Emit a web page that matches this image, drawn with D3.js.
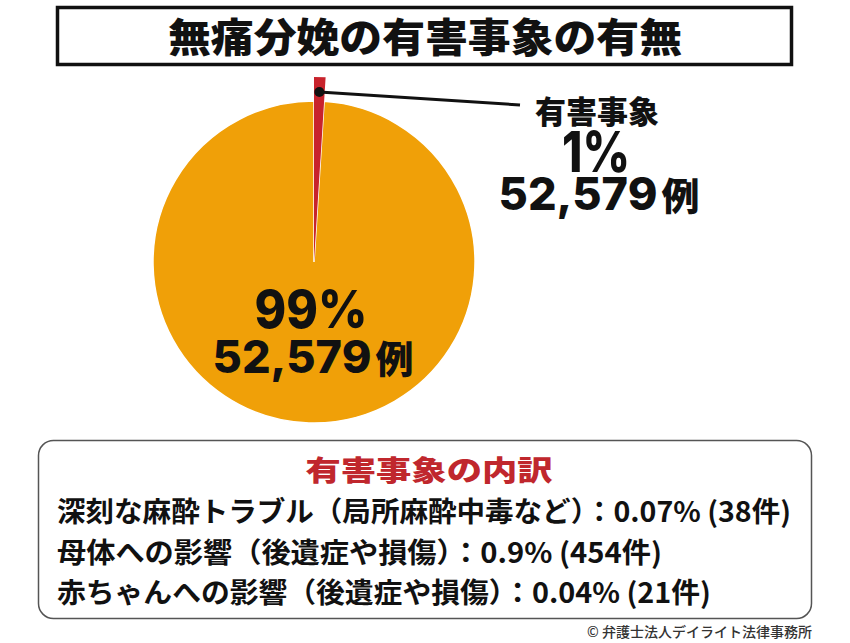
<!DOCTYPE html>
<html>
<head>
<meta charset="utf-8">
<script src="https://cdn.jsdelivr.net/npm/d3@7/dist/d3.min.js"></script>
<style>
  html, body { margin: 0; padding: 0; background: #fff; }
  svg { display: block; }
</style>
</head>
<body>
<svg id="chart" width="850" height="643"></svg>
<script>
// ---- data ----
const title = "無痛分娩の有害事象の有無";
const categories = ["有害事象", "有害事象なし"];
const percentValues = [1, 99];
const percentLabels = ["1%", "99%"];
const caseLabels = ["52,579", "52,579"];
const colors = ["#c8232c", "#f0a008"];
const breakdownTitle = "有害事象の内訳";
const breakdownLines = [
  "深刻な麻酔トラブル（局所麻酔中毒など）：0.07% (38件)",
  "母体への影響（後遺症や損傷）：0.9% (454件)",
  "赤ちゃんへの影響（後遺症や損傷）：0.04% (21件)"
];
const breakdownWidths = [734, 605, 654];
const credit = "© 弁護士法人デイライト法律事務所";

const JP = "'Noto Sans CJK JP', 'Noto Sans', sans-serif";
const NUM = "Inter, Lato, 'Noto Sans', sans-serif";

const svg = d3.select("#chart");

// ---- title box ----
svg.append("rect").attr("x", 57.5).attr("y", 7.5).attr("width", 734).attr("height", 57)
  .attr("fill", "#fff").attr("stroke", "#111").attr("stroke-width", 3.5);
svg.append("text").attr("x", 425).attr("y", 52).attr("text-anchor", "middle")
  .attr("font-family", JP).attr("font-weight", 900).attr("font-size", 40)
  .attr("textLength", 514).attr("lengthAdjust", "spacingAndGlyphs")
  .attr("fill", "#111").text(title);

// ---- pie ----
const cx = 314, cy = 262, R = 161, Rred = 185;
const pie = d3.pie().sort(null).value(d => d)(percentValues);
const g = svg.append("g").attr("transform", `translate(${cx},${cy})`);

const arcMain = d3.arc().innerRadius(0).outerRadius(R);
const arcRed = d3.arc().innerRadius(0).outerRadius(Rred);

g.append("path").datum(pie[1]).attr("d", arcMain).attr("fill", colors[1])
  .attr("stroke", "#fff").attr("stroke-width", 1.5);
g.append("path").datum(pie[0]).attr("d", arcRed).attr("fill", colors[0]);

// leader for small slice
const midA = (pie[0].startAngle + pie[0].endAngle) / 2;
const pr = 170;
const px = cx + pr * Math.sin(midA), py = cy - pr * Math.cos(midA);
svg.append("line").attr("x1", px).attr("y1", py).attr("x2", 520).attr("y2", 105)
  .attr("stroke", "#111").attr("stroke-width", 3);
svg.append("circle").attr("cx", px).attr("cy", py).attr("r", 5).attr("fill", "#111");

// small slice labels
svg.append("text").attr("x", 597).attr("y", 123).attr("text-anchor", "middle")
  .attr("font-family", JP).attr("font-weight", 900).attr("font-size", 31)
  .attr("fill", "#111").text(categories[0]);
svg.append("text").attr("x", 596).attr("y", 172).attr("text-anchor", "middle")
  .attr("font-family", NUM).attr("font-weight", 800).attr("font-size", 57)
  .attr("textLength", 68).attr("lengthAdjust", "spacingAndGlyphs")
  .attr("fill", "#111").text(percentLabels[0]);
const t1 = svg.append("text").attr("x", 599).attr("y", 210).attr("text-anchor", "middle")
  .attr("fill", "#111").attr("font-weight", 800);
t1.append("tspan").attr("font-family", NUM).attr("font-size", 45).text(caseLabels[0]);
t1.append("tspan").attr("font-family", JP).attr("font-weight", 900).attr("font-size", 38).attr("dx", 4).text("例");

// big slice labels
svg.append("text").attr("x", 311).attr("y", 328).attr("text-anchor", "middle")
  .attr("font-family", NUM).attr("font-weight", 800).attr("font-size", 52)
  .attr("textLength", 113).attr("lengthAdjust", "spacingAndGlyphs")
  .attr("fill", "#111").text(percentLabels[1]);
const t2 = svg.append("text").attr("x", 313).attr("y", 373).attr("text-anchor", "middle")
  .attr("fill", "#111").attr("font-weight", 800);
t2.append("tspan").attr("font-family", NUM).attr("font-size", 45).text(caseLabels[1]);
t2.append("tspan").attr("font-family", JP).attr("font-weight", 900).attr("font-size", 38).attr("dx", 4).text("例");

// ---- breakdown box ----
svg.append("rect").attr("x", 38.5).attr("y", 440.5).attr("width", 773).attr("height", 178)
  .attr("rx", 15).attr("ry", 15)
  .attr("fill", "#fff").attr("stroke", "#555").attr("stroke-width", 1.5);
svg.append("text").attr("x", 429).attr("y", 481).attr("text-anchor", "middle")
  .attr("font-family", JP).attr("font-weight", 900).attr("font-size", 28)
  .attr("textLength", 247).attr("lengthAdjust", "spacingAndGlyphs")
  .attr("fill", "#c0272d").text(breakdownTitle);

const lineY = d3.scalePoint().domain(d3.range(breakdownLines.length)).range([522, 603]);
svg.selectAll("text.bl").data(breakdownLines).join("text").attr("class", "bl")
  .attr("x", 57).attr("y", (d, i) => lineY(i))
  .attr("font-family", JP).attr("font-weight", 700).attr("font-size", 28)
  .attr("textLength", (d, i) => breakdownWidths[i]).attr("lengthAdjust", "spacingAndGlyphs")
  .attr("fill", "#111").text(d => d);

svg.append("text").attr("x", 812).attr("y", 637).attr("text-anchor", "end")
  .attr("font-family", JP).attr("font-weight", 500).attr("font-size", 14)
  .attr("fill", "#333").text(credit);
</script>
</body>
</html>
